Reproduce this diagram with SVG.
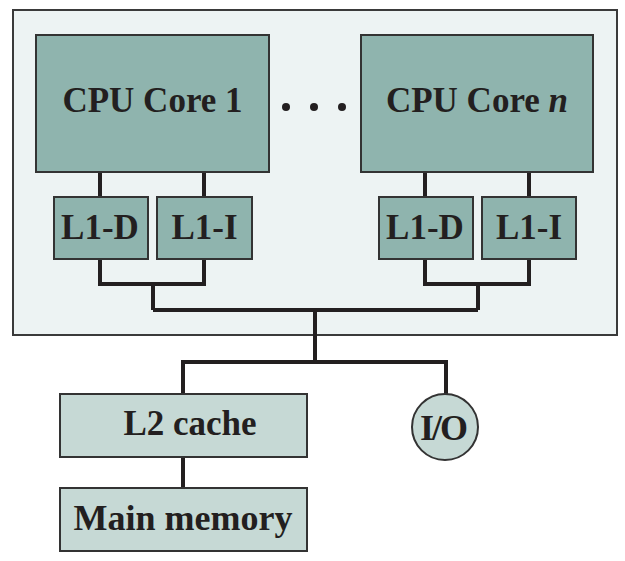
<svg xmlns="http://www.w3.org/2000/svg" width="625" height="561" viewBox="0 0 625 561">
  <style>
    .chip { fill: #edf3f3; stroke: #3a3a3a; stroke-width: 2; }
    .core { fill: #8fb4ae; stroke: #333333; stroke-width: 2; }
    .ext { fill: #c6d9d5; stroke: #333333; stroke-width: 2; }
    .wire { fill: none; stroke: #231f20; stroke-width: 4; stroke-linejoin: miter; }
    .lbl { font-family: "Liberation Serif", "Times New Roman", serif; font-weight: bold; fill: #231f20; text-anchor: middle; }
    .big { font-size: 35px; }
    .mid { font-size: 35px; }
  </style>

  <rect id="chip" class="chip" x="13" y="10" width="604" height="325"/>

  <g id="connectors">
    <!-- core 1 to its L1 caches -->
    <path class="wire" d="M100 172 V197 M204 172 V197"/>
    <path class="wire" d="M100 259 V284 H204 V259 M153 284 V310"/>
    <!-- core n to its L1 caches -->
    <path class="wire" d="M425 172 V197 M529 172 V197"/>
    <path class="wire" d="M425 259 V284 H529 V259 M478 284 V310"/>
    <!-- shared bus -->
    <path class="wire" d="M153 310 H478 M315 310 V362"/>
    <path class="wire" d="M183 394 V362 H446 V394"/>
    <path class="wire" d="M183 457 V488"/>
  </g>

  <g id="core1">
    <rect class="core" x="36" y="35" width="233" height="137"/>
    <text class="lbl big" x="152.5" y="112">CPU Core 1</text>
  </g>
  <g id="core1-l1d">
    <rect class="core" x="54" y="197" width="94" height="62"/>
    <text class="lbl mid" x="100" y="239">L1-D</text>
  </g>
  <g id="core1-l1i">
    <rect class="core" x="157" y="197" width="95" height="62"/>
    <text class="lbl mid" x="204.5" y="239">L1-I</text>
  </g>

  <g id="ellipsis" fill="#231f20">
    <circle cx="286" cy="107" r="4"/>
    <circle cx="314" cy="107" r="4"/>
    <circle cx="342" cy="107" r="4"/>
  </g>

  <g id="coren">
    <rect class="core" x="361" y="35" width="232" height="137"/>
    <text class="lbl big" x="477" y="112">CPU Core <tspan font-style="italic">n</tspan></text>
  </g>
  <g id="coren-l1d">
    <rect class="core" x="379" y="197" width="94" height="62"/>
    <text class="lbl mid" x="425" y="239">L1-D</text>
  </g>
  <g id="coren-l1i">
    <rect class="core" x="482" y="197" width="94" height="62"/>
    <text class="lbl mid" x="529" y="239">L1-I</text>
  </g>

  <g id="l2">
    <rect class="ext" x="60" y="394" width="247" height="63"/>
    <text class="lbl mid" x="190" y="435">L2 cache</text>
  </g>
  <g id="memory">
    <rect class="ext" x="60" y="488" width="247" height="63"/>
    <text class="lbl" x="183" y="530" font-size="36">Main memory</text>
  </g>
  <g id="io">
    <circle class="ext" cx="445" cy="427" r="33"/>
    <text class="lbl" x="443" y="440" font-size="36" letter-spacing="-2">I/O</text>
  </g>
</svg>
